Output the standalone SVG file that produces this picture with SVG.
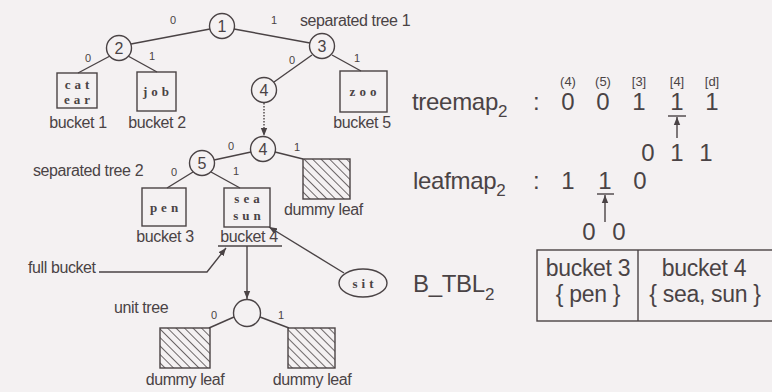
<svg xmlns="http://www.w3.org/2000/svg" width="772" height="392" viewBox="0 0 772 392">
<defs>
<style>
text{font-family:"Liberation Sans",Arial,sans-serif;fill:#4a4345}
.lbl{font-size:16px;letter-spacing:-0.4px}
.el{font-size:11px}
.nd{font-size:16px;text-anchor:middle}
.key{font-family:"Liberation Serif",serif;font-weight:bold;font-size:13px;letter-spacing:4px;text-anchor:middle}
.big{font-size:24px;letter-spacing:-0.3px}
.hd{font-size:13px;text-anchor:middle}
.dg{font-size:24px;text-anchor:middle}
.tb{font-size:23px;text-anchor:middle;letter-spacing:-0.3px}
.c{fill:none;stroke:#4a4345;stroke-width:1.4}
.box{fill:none;stroke:#4a4345;stroke-width:1.4}
.hbox{fill:url(#hatch);stroke:#4a4345;stroke-width:1.4}
.ln{fill:none;stroke:#4a4345;stroke-width:1.4}
</style>
<pattern id="hatch" width="6" height="6" patternUnits="userSpaceOnUse" patternTransform="rotate(-45)">
<line x1="0" y1="0" x2="0" y2="6" stroke="#4a4345" stroke-width="1.6"/>
</pattern>
<marker id="ah" viewBox="0 0 10 10" refX="10" refY="5" markerWidth="8" markerHeight="8" orient="auto-start-reverse" markerUnits="userSpaceOnUse">
<path d="M0,1 L10,5 L0,9 Z" fill="#4a4345"/>
</marker>
</defs>
<rect width="772" height="392" fill="#f4f1f2"/>

<g id="connectors">
<line class="ln" x1="210" y1="29" x2="131" y2="44"/>
<line class="ln" x1="234" y1="29" x2="310" y2="43"/>
<line class="ln" x1="110" y1="56" x2="78" y2="73"/>
<line class="ln" x1="128" y1="56" x2="157" y2="72"/>
<line class="ln" x1="312" y1="55" x2="274" y2="82"/>
<line class="ln" x1="332" y1="55" x2="361" y2="71"/>
<line class="ln" x1="264" y1="103" x2="264" y2="136" stroke-dasharray="1.5,1.5" marker-end="url(#ah)"/>
<line class="ln" x1="251" y1="152" x2="214" y2="160"/>
<line class="ln" x1="275" y1="152" x2="303" y2="159"/>
<line class="ln" x1="193" y1="172" x2="167" y2="188"/>
<line class="ln" x1="211" y1="172" x2="240" y2="188"/>
<line class="ln" x1="218" y1="246" x2="282" y2="246"/>
<line class="ln" x1="247" y1="246" x2="247" y2="299" stroke-width="1.8" marker-end="url(#ah)"/>
<polyline class="ln" points="99,272 207,272 226,248" marker-end="url(#ah)"/>
<line class="ln" x1="344" y1="273" x2="269" y2="227" marker-end="url(#ah)"/>
<line class="ln" x1="234" y1="317" x2="209" y2="328"/>
<line class="ln" x1="260" y1="317" x2="289" y2="328"/>
<line class="ln" x1="668" y1="116" x2="686" y2="116"/>
<line class="ln" x1="677" y1="138" x2="677" y2="117" marker-end="url(#ah)"/>
<line class="ln" x1="597" y1="194" x2="614" y2="194"/>
<line class="ln" x1="605" y1="222" x2="605" y2="195" marker-end="url(#ah)"/>
</g>

<g id="n1"><circle class="c" cx="222" cy="26" r="12.5"/><text class="nd" x="222" y="32">1</text></g>
<g id="n2"><circle class="c" cx="119" cy="48" r="12.5"/><text class="nd" x="119" y="54">2</text></g>
<g id="n3"><circle class="c" cx="322" cy="46" r="12.5"/><text class="nd" x="322" y="52">3</text></g>
<g id="n4a"><circle class="c" cx="264" cy="90" r="12.5"/><text class="nd" x="264" y="96">4</text></g>
<g id="n4b"><circle class="c" cx="263" cy="149" r="12.5"/><text class="nd" x="263" y="155">4</text></g>
<g id="n5"><circle class="c" cx="202" cy="163" r="12.5"/><text class="nd" x="202" y="169">5</text></g>
<g id="nu"><circle class="c" cx="247" cy="313" r="13.5"/></g>

<g id="edge-labels">
<text class="el" x="170" y="24">0</text>
<text class="el" x="271" y="24">1</text>
<text class="el" x="85" y="62">0</text>
<text class="el" x="149" y="60">1</text>
<text class="el" x="289" y="64">0</text>
<text class="el" x="354" y="62">1</text>
<text class="el" x="228" y="150">0</text>
<text class="el" x="294" y="151">1</text>
<text class="el" x="171" y="176">0</text>
<text class="el" x="233" y="175">1</text>
<text class="el" x="211" y="319">0</text>
<text class="el" x="278" y="319">1</text>
</g>

<g id="b1"><rect class="box" x="57" y="73" width="40" height="35"/><text class="key" x="79" y="89">cat</text><text class="key" x="79" y="104">ear</text><text class="lbl" x="78" y="128" text-anchor="middle">bucket 1</text></g>
<g id="b2"><rect class="box" x="137" y="72" width="39" height="39"/><text class="key" x="158" y="96">job</text><text class="lbl" x="157" y="128" text-anchor="middle">bucket 2</text></g>
<g id="b5"><rect class="box" x="340" y="71" width="47" height="41"/><text class="key" x="365" y="96">zoo</text><text class="lbl" x="362" y="128" text-anchor="middle">bucket 5</text></g>
<g id="b3"><rect class="box" x="142" y="188" width="44" height="38"/><text class="key" x="166" y="212">pen</text><text class="lbl" x="165" y="242" text-anchor="middle">bucket 3</text></g>
<g id="b4"><rect class="box" x="224" y="188" width="46" height="39"/><text class="key" x="249" y="203">sea</text><text class="key" x="249" y="220">sun</text><text class="lbl" x="249" y="242" text-anchor="middle">bucket 4</text></g>
<g id="d1"><rect class="hbox" x="303" y="159" width="47" height="40"/><text class="lbl" x="284" y="215">dummy leaf</text></g>
<g id="d2"><rect class="hbox" x="160" y="328" width="50" height="40"/><text class="lbl" x="185" y="385" text-anchor="middle">dummy leaf</text></g>
<g id="d3"><rect class="hbox" x="288" y="328" width="47" height="40"/><text class="lbl" x="312" y="385" text-anchor="middle">dummy leaf</text></g>
<g id="sit"><ellipse class="c" cx="363" cy="283" rx="24" ry="14"/><text class="key" x="365" y="288">sit</text></g>

<g id="labels">
<text class="lbl" x="300" y="26">separated tree 1</text>
<text class="lbl" x="33" y="176">separated tree 2</text>
<text class="lbl" x="28" y="273">full bucket</text>
<text class="lbl" x="114" y="313">unit tree</text>
</g>

<g id="maps">
<text class="big" x="412" y="110">treemap<tspan font-size="17" dy="7">2</tspan></text>
<text class="big" x="533" y="110">:</text>
<text class="hd" x="568" y="86">(4)</text>
<text class="hd" x="603" y="86">(5)</text>
<text class="hd" x="639" y="86">[3]</text>
<text class="hd" x="677" y="86">[4]</text>
<text class="hd" x="712" y="86">[d]</text>
<text class="dg" x="568" y="110">0</text>
<text class="dg" x="603" y="110">0</text>
<text class="dg" x="639" y="110">1</text>
<text class="dg" x="677" y="110">1</text>
<text class="dg" x="712" y="110">1</text>
<text class="dg" x="648" y="161">0</text>
<text class="dg" x="677" y="161">1</text>
<text class="dg" x="706" y="161">1</text>
<text class="big" x="413" y="189">leafmap<tspan font-size="17" dy="7">2</tspan></text>
<text class="big" x="533" y="189">:</text>
<text class="dg" x="568" y="189">1</text>
<text class="dg" x="605" y="189">1</text>
<text class="dg" x="640" y="189">0</text>
<text class="dg" x="589" y="240">0</text>
<text class="dg" x="619" y="240">0</text>
<text class="big" x="413" y="292">B_TBL<tspan font-size="17" dy="8">2</tspan></text>
</g>

<g id="btbl">
<rect class="box" x="537" y="250" width="240" height="71"/>
<line class="ln" x1="638" y1="250" x2="638" y2="321"/>
<text class="tb" x="588" y="276">bucket 3</text>
<text class="tb" x="588" y="302">{ pen }</text>
<text class="tb" x="704" y="276">bucket 4</text>
<text class="tb" x="705" y="302">{ sea, sun }</text>
</g>
</svg>
